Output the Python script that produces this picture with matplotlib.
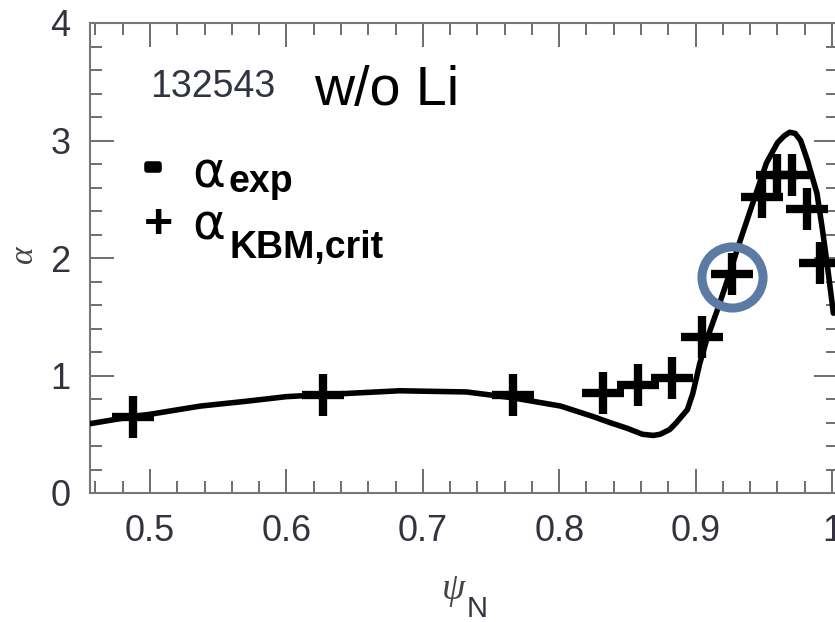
import matplotlib as mpl
mpl.use('Agg')
import matplotlib.pyplot as plt
import matplotlib.patheffects as pe
from matplotlib.ticker import MultipleLocator, FixedLocator, FixedFormatter

# alpha_exp profile (solid line)
psi_exp = [0.456, 0.487, 0.500, 0.537, 0.570, 0.600, 0.632, 0.683, 0.732, 0.766,
           0.801, 0.825, 0.837, 0.850, 0.861, 0.869, 0.874, 0.881, 0.886, 0.894,
           0.898, 0.903, 0.908, 0.916, 0.923, 0.931, 0.942, 0.952, 0.960, 0.965,
           0.969, 0.973, 0.977, 0.982, 0.989, 0.993, 0.997, 1.001]
alpha_exp = [0.59, 0.65, 0.67, 0.74, 0.78, 0.82, 0.84, 0.87, 0.86, 0.81,
             0.74, 0.65, 0.60, 0.55, 0.50, 0.49, 0.50, 0.54, 0.60, 0.71,
             0.85, 1.10, 1.30, 1.56, 1.80, 2.09, 2.47, 2.81, 2.98, 3.04,
             3.07, 3.06, 3.00, 2.83, 2.55, 2.24, 1.90, 1.53]

# alpha_KBM,crit points (crosses)
psi_kbm = [0.4875, 0.627, 0.766, 0.832, 0.858, 0.883, 0.905, 0.927, 0.949,
           0.960, 0.971, 0.982, 0.991]
alpha_kbm = [0.65, 0.83, 0.83, 0.85, 0.92, 0.98, 1.33, 1.86, 2.52,
             2.71, 2.71, 2.42, 1.96]

# circled point
circ_psi = 0.927
circ_alpha = 1.84

xtick_vals = [0.5, 0.6, 0.7, 0.8, 0.9, 1.0]
xtick_labels = ['0.5', '0.6', '0.7', '0.8', '0.9', '1']
ytick_vals = [0, 1, 2, 3, 4]
ytick_labels = ['0', '1', '2', '3', '4']

W, H = 835, 622


def px(x, y):
    # pixel position (from top-left) -> figure fraction
    return x / W, 1 - y / H


plt.rcParams['font.family'] = ['Liberation Sans', 'DejaVu Sans']

fig = plt.figure(figsize=(W / 100, H / 100), dpi=100)
ax = fig.add_axes([90 / W, 129 / H, 748 / W, 470 / H])

ax.plot(psi_kbm, alpha_kbm, linestyle='none', marker='+', ms=30, mew=6,
        color='black', zorder=3)
ax.plot(psi_exp, alpha_exp, color='black', lw=4, solid_joinstyle='round',
        solid_capstyle='round', zorder=3)
ax.plot([circ_psi], [circ_alpha], linestyle='none', marker='o', ms=44,
        mfc='none', mec='#5b7ba5', mew=6.5, zorder=4)

ax.set_xlim(0.456, 1.0044)
ax.set_ylim(0, 4)

ax.xaxis.set_major_locator(FixedLocator(xtick_vals))
ax.xaxis.set_major_formatter(FixedFormatter(xtick_labels))
ax.xaxis.set_minor_locator(MultipleLocator(0.02))
ax.yaxis.set_major_locator(FixedLocator(ytick_vals))
ax.yaxis.set_major_formatter(FixedFormatter(ytick_labels))
ax.yaxis.set_minor_locator(MultipleLocator(0.2))

ax.tick_params(which='both', direction='in', top=True, right=True,
               color='#6e6e6e', width=1.4)
ax.tick_params(which='major', length=17, labelsize=26, labelcolor='#333340')
ax.tick_params(axis='x', which='major', pad=15)
ax.tick_params(axis='y', which='major', pad=14)
ax.tick_params(which='minor', length=8.5)
for s in ax.spines.values():
    s.set_color('#777777')
    s.set_linewidth(1.5)

# annotations
fig.text(*px(150, 97), '132543', fontsize=27, color='#2f3440', va='baseline')
fig.text(*px(314, 105), 'w/o Li', fontsize=40, color='black', va='baseline')

fig.text(*px(153, 167), '-', fontsize=36, fontweight='bold', ha='center', va='center',
         path_effects=[pe.withStroke(linewidth=4, foreground='black')])
fig.text(*px(159, 225), '+', fontsize=36, fontweight='bold', ha='center', va='center')
fig.text(*px(192, 187), '\u03b1', fontsize=36, family=['DejaVu Sans'], va='baseline')
fig.text(*px(228, 192), 'exp', fontsize=27, fontweight='bold', va='baseline')
fig.text(*px(192, 240), '\u03b1', fontsize=36, family=['DejaVu Sans'], va='baseline')
fig.text(*px(230, 258), 'KBM,crit', fontsize=27, fontweight='bold', va='baseline')

# axis labels
fig.text(*px(453, 590), '\u03c8', fontsize=27, style='italic', color='#444444',
         family=['Liberation Serif', 'DejaVu Serif'], ha='center', va='center')
fig.text(*px(467, 617), 'N', fontsize=21, color='#2f3440', va='baseline')
fig.text(*px(24, 254), '\u03b1', fontsize=24, style='italic', color='#444444',
         family=['Liberation Serif', 'DejaVu Serif'], rotation=90,
         ha='center', va='center')

fig.savefig('out.png', dpi=100, facecolor='w')
